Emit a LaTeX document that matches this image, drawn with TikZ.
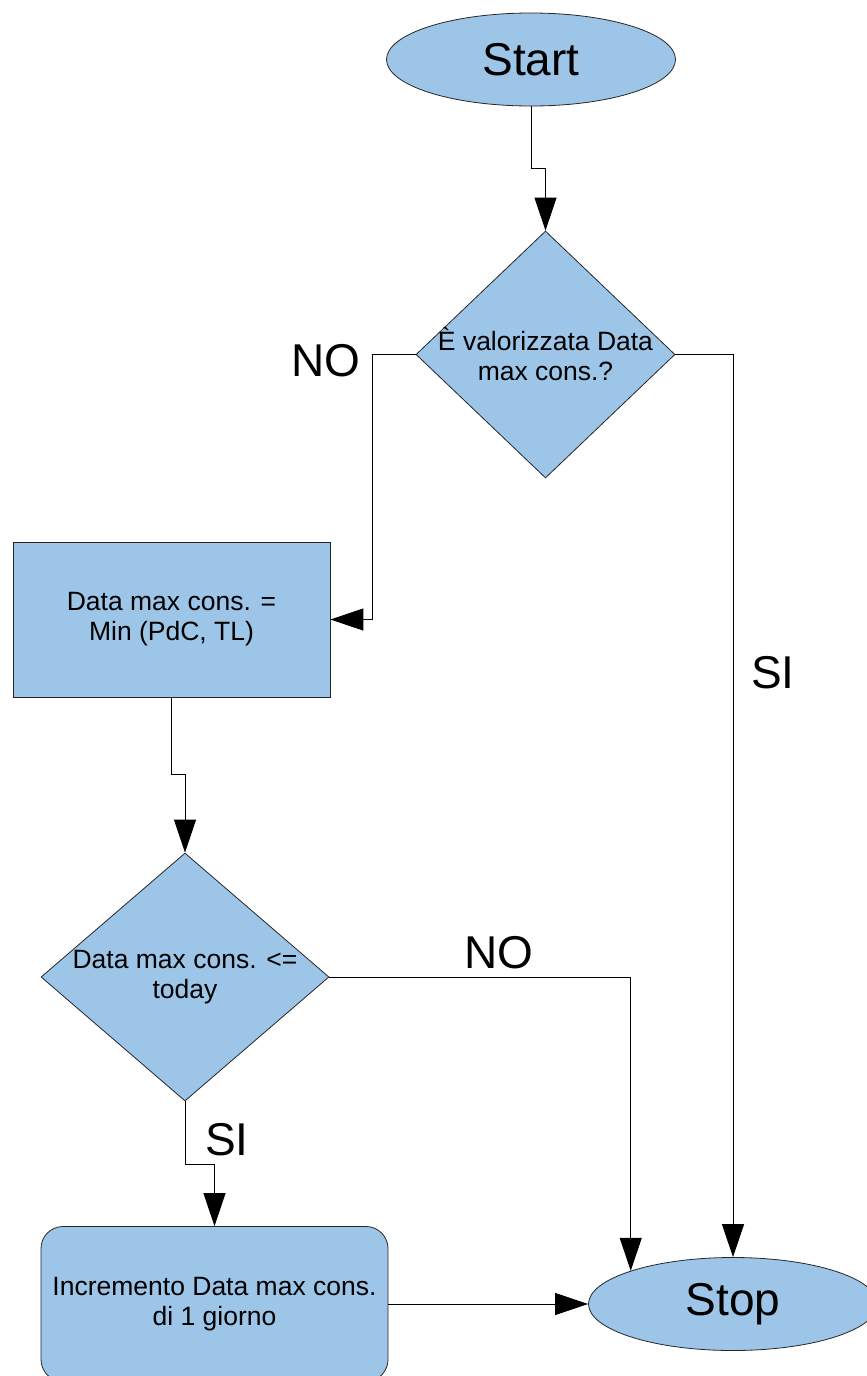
\documentclass[tikz,border=0pt]{standalone}
\usepackage{fontspec}
\setmainfont{Liberation Sans}
\usetikzlibrary{shapes.geometric,arrows.meta}
\definecolor{boxblue}{RGB}{157,197,232}
\tikzset{
  shp/.style={draw=black!85, line width=0.8pt, fill=boxblue, inner sep=0pt},
  term/.style={shp, ellipse, minimum width=289pt, minimum height=93pt, font=\fontsize{46}{50}\selectfont},
  dec/.style={shp, diamond, inner sep=0pt},
  procbox/.style={shp, rectangle, minimum width=317pt, minimum height=155pt},
  body/.style={align=center, font=\fontsize{26.5}{30}\selectfont, inner sep=0pt},
  lbl/.style={font=\fontsize{46}{50}\selectfont, inner sep=0pt},
  arr/.style={line width=1pt, -{Triangle[length=33pt,width=22pt]}}
}
\begin{document}
\begin{tikzpicture}[x=1pt,y=-1pt]
\useasboundingbox (0,0) rectangle (867,1376);
\node[term] (start) at (531,59.5) {Start};
\node[dec, minimum width=259pt, minimum height=247pt] (d1) at (545.5,354.5) {};
\node[body] (d1t) at (d1.center) {È valorizzata Data\\max cons.?};
\node[procbox, body] (b1) at (171.5,619.5) {Data max cons. =\\Min (PdC, TL)};
\node[dec, minimum width=288pt, minimum height=248pt] (d2) at (185,977) {};
\node[body] (d2t) at (d2.center) {Data max cons. <=\\today};
\node[shp, rectangle, rounded corners=22pt, minimum width=347pt, minimum height=155pt, body] (b2) at (214.5,1304) {Incremento Data max cons.\\di 1 giorno};
\node[term] (stop) at (733,1304) {Stop};

\node[lbl] (no1) at (326,360.5) {NO};
\node[lbl] (no2) at (499,953) {NO};
\node[lbl] (si1) at (773,673) {SI};
\node[lbl] (si2) at (227,1140) {SI};

\draw[arr] (start.south) -- ++(0,62) -| (d1.north);
\draw[arr] (d1.west) -- ++(-43,0) |- (b1.east);
\draw[arr] (d1.east) -| (stop.north);
\draw[arr] (b1.south) -- ++(0,77) -| (d2.north);
\draw[arr] (d2.east) -| (stop.162);
\draw[arr] (d2.south) -- ++(0,63) -| (b2.north);
\draw[arr] (b2.east) -- (stop.west);
\end{tikzpicture}
\end{document}
